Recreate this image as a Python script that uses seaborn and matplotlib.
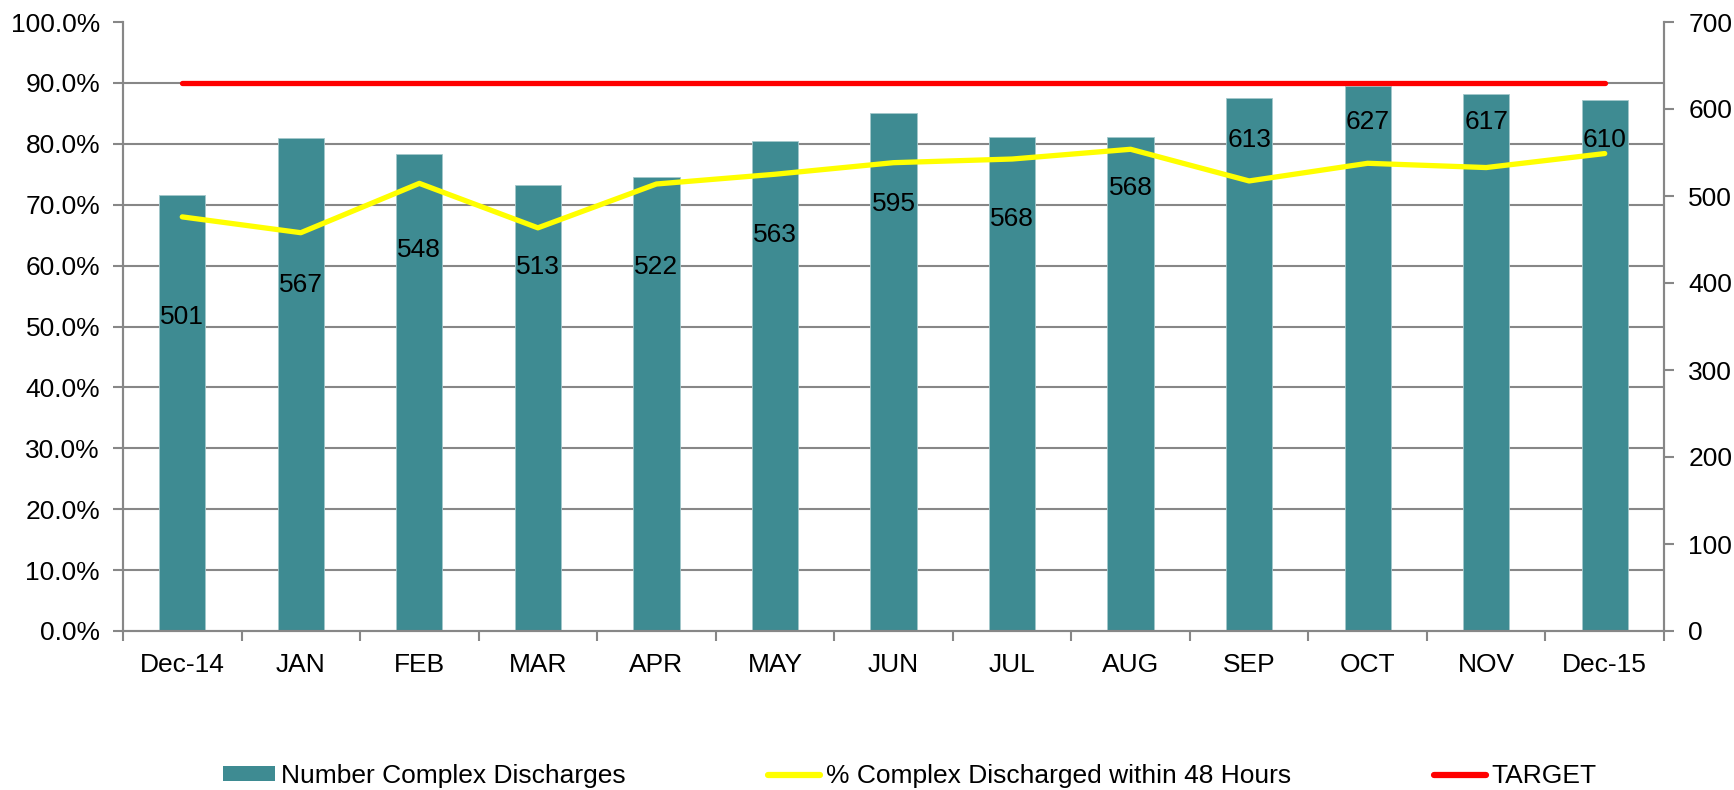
import numpy as np
import pandas as pd
import matplotlib.pyplot as plt
import seaborn as sns
from matplotlib.lines import Line2D
from matplotlib.patches import Patch
from matplotlib.ticker import FuncFormatter, MultipleLocator

# data
months = ['Dec-14', 'JAN', 'FEB', 'MAR', 'APR', 'MAY', 'JUN',
          'JUL', 'AUG', 'SEP', 'OCT', 'NOV', 'Dec-15']
discharges = [501, 567, 548, 513, 522, 563, 595, 568, 568, 613, 627, 617, 610]
pct_48h = [68.0, 65.4, 73.5, 66.2, 73.4, 75.0, 76.9, 77.5, 79.1, 73.9, 76.8, 76.1, 78.4]
target = [90.0, 90.0, 90.0, 90.0, 90.0, 90.0, 90.0, 90.0, 90.0, 90.0, 90.0, 90.0, 90.0]
# where the count labels sit (in % axis units), as placed in the original
label_pos = [51.5, 56.8, 62.5, 59.7, 59.7, 65.0, 70.1, 67.6, 72.7, 80.6, 83.6, 83.6, 80.6]

BAR = '#3E8B92'
YELLOW = '#FFFF00'
RED = '#FF0000'
GRID = '#878787'
FS = 19

sns.set_style('white')
plt.rcParams['font.family'] = ['Liberation Sans', 'DejaVu Sans']
plt.rcParams['font.size'] = FS
plt.rcParams['text.color'] = 'black'
plt.rcParams['xtick.color'] = 'black'
plt.rcParams['ytick.color'] = 'black'

df = pd.DataFrame({'month': months, 'count': discharges, 'pct': pct_48h,
                   'target': target, 'pos': np.arange(len(months))})
n = len(months)

fig = plt.figure(figsize=(17.34, 7.90), dpi=100)
ax = fig.add_axes([123 / 1734, 1 - 631 / 790, (1664 - 123) / 1734, (631 - 22) / 790])
ax2 = ax.twinx()
ax.set_zorder(ax2.get_zorder() + 1)
ax.patch.set_visible(False)

# bars on the right (count) axis
sns.barplot(data=df, x='month', y='count', ax=ax2, color=BAR, width=0.39,
            saturation=1, edgecolor='#A3C8CB', linewidth=0.6)
ax2.set_ylim(0, 700)
ax2.set_yticks(np.arange(0, 701, 100))
# gridlines follow the % axis (every 10%), drawn behind the bars
ax2.set_yticks(np.linspace(0, 700, 11), minor=True)
ax2.grid(which='minor', axis='y', color=GRID, linewidth=1.5)
ax2.grid(which='major', visible=False)
ax2.set_axisbelow(True)
ax2.set_xlabel('')
ax2.set_ylabel('')

# lines on the left (%) axis
sns.lineplot(data=df, x='pos', y='pct', ax=ax, color=YELLOW, linewidth=3.8, sort=False)
sns.lineplot(data=df, x='pos', y='target', ax=ax, color=RED, linewidth=3.8,
             sort=False, solid_capstyle='round')
ax.set_ylim(0, 100)
ax.set_xlim(-0.5, n - 0.5)
ax.yaxis.set_major_locator(MultipleLocator(10))
ax.yaxis.set_major_formatter(FuncFormatter(lambda v, p: f'{v:.1f}%'))
ax.set_xlabel('')
ax.set_ylabel('')
ax.grid(False)

ax.set_xticks(np.arange(n))
ax.set_xticklabels(months)
ax.set_xticks(np.arange(n + 1) - 0.5, minor=True)
ax.tick_params(axis='x', which='major', length=0, pad=16, labelsize=FS, labelcolor='black')
ax.tick_params(axis='x', which='minor', bottom=True, length=7.5, width=1.5, color=GRID)
ax.tick_params(axis='y', which='major', left=True, direction='out', length=7.5,
               width=1.5, color=GRID, pad=9, labelsize=FS, labelcolor='black')
ax2.tick_params(axis='y', which='major', right=True, direction='out', length=7.5,
                width=1.5, color=GRID, pad=10, labelsize=FS, labelcolor='black')
ax2.tick_params(axis='y', which='minor', length=0)

for a in (ax, ax2):
    a.spines['top'].set_visible(False)
    for s in ('left', 'right', 'bottom'):
        a.spines[s].set_color(GRID)
        a.spines[s].set_linewidth(1.5)

for i, (v, y) in enumerate(zip(discharges, label_pos)):
    ax.text(i, y, str(v), ha='center', va='center', fontsize=FS, color='black', zorder=10)

handles = [Patch(facecolor=BAR, edgecolor='none'),
           Line2D([], [], color=YELLOW, linewidth=4.5),
           Line2D([], [], color=RED, linewidth=4.5, solid_capstyle='round')]
labels = ['Number Complex Discharges', '% Complex Discharged within 48 Hours', 'TARGET']
fig.legend(handles, labels, loc='center', bbox_to_anchor=(910 / 1734, 1 - 776 / 790),
           ncol=3, frameon=False, fontsize=FS, handlelength=1.97, handleheight=0.5,
           handletextpad=0.22, columnspacing=5.4, borderaxespad=0, labelcolor='black')

fig.savefig('out.png', dpi=100)
